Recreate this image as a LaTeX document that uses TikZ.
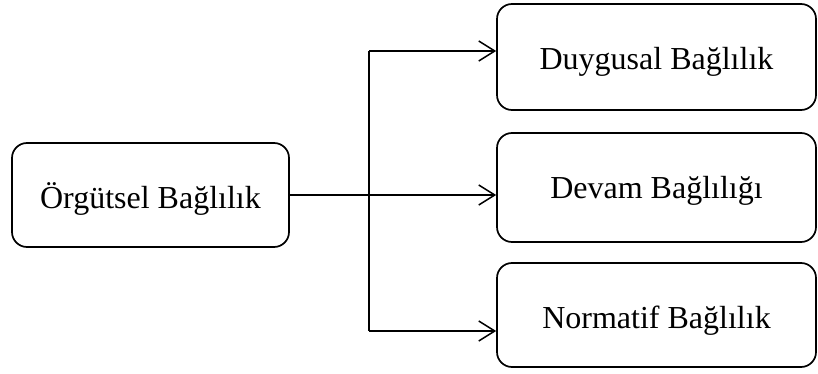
\documentclass[tikz,border=0pt]{standalone}
\usepackage{fontspec}
\setmainfont{Liberation Serif}
\usetikzlibrary{arrows.meta}
\begin{document}
\begin{tikzpicture}[x=1pt,y=-1pt,
  conceptbox/.style={draw, line width=1.7pt, rounded corners=15pt, inner sep=0pt},
  caption/.style={font=\fontsize{32}{38}\selectfont, inner sep=0pt},
  link/.style={line width=1.5pt},
  linkarrow/.style={link, -{Straight Barb[length=16pt,width=20pt,line width=1.5pt]}}]
\useasboundingbox (0,0) rectangle (818,374);

% source concept
\node[conceptbox, minimum width=277pt, minimum height=104pt,
  label={[caption, yshift=-4pt]center:Örgütsel Bağlılık}] (org) at (150.5,195) {};

% three components
\node[conceptbox, minimum width=319pt, minimum height=106pt,
  label={[caption, yshift=-5pt]center:Duygusal Bağlılık}] (duy) at (656.5,57) {};
\node[conceptbox, minimum width=319pt, minimum height=109pt,
  label={[caption, yshift=-3pt]center:Devam Bağlılığı}] (dev) at (656.5,187.5) {};
\node[conceptbox, minimum width=319pt, minimum height=104pt,
  label={[caption, yshift=-6pt]center:Normatif Bağlılık}] (nor) at (656.5,315) {};

% branching connector
\coordinate (up) at (369,51);
\coordinate (down) at (369,331);
\draw[link] (up) -- (down);
\draw[linkarrow] (org.east) -- (org.east -| dev.west);
\draw[linkarrow] (up) -- (up -| duy.west);
\draw[linkarrow] (down) -- (down -| nor.west);
\end{tikzpicture}
\end{document}
